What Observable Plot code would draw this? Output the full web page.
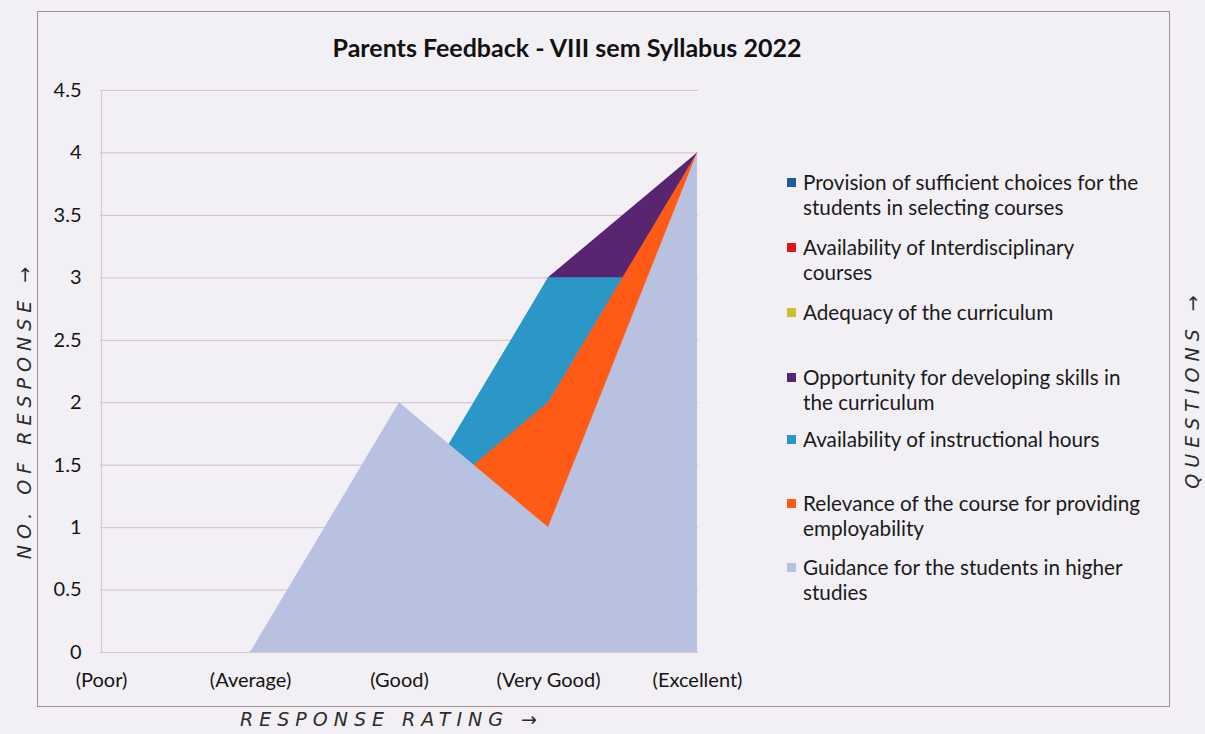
<!DOCTYPE html>
<html>
<head>
<meta charset="utf-8">
<script src="https://cdn.jsdelivr.net/npm/d3@7"></script>
<script src="https://cdn.jsdelivr.net/npm/@observablehq/plot@0.6"></script>
<style>
  html, body { margin: 0; padding: 0; background: #f3f0f5; }
  #wrap { position: relative; width: 1205px; height: 734px; overflow: hidden; background: #f3f0f5; font-family: Lato, "Open Sans", sans-serif; color: #141414; }
  #border { position: absolute; left: 37px; top: 11px; width: 1133px; height: 696px; border: 1.5px solid #9c8f88; box-sizing: border-box; }
  #title { position: absolute; left: 0; width: 1134px; top: 31px; text-align: center; font-weight: 700; font-size: 25px; line-height: 32px; color: #111; }
  #chart { position: absolute; left: 0; top: 0; }
  .leg { position: absolute; left: 787px; display: flex; align-items: flex-start; font-size: 20.7px; line-height: 25px; color: #1a1a1a; }
  .leg .sw { width: 9px; height: 9px; margin-top: 8px; margin-right: 7px; flex: none; }
  .hand { position: absolute; font-family: "DejaVu Sans", sans-serif; font-style: italic; font-size: 19px; letter-spacing: 6px; color: #2b2b2b; white-space: nowrap; font-weight: normal; }
</style>
</head>
<body>
<div id="wrap">
  <div id="border"></div>
  <div id="chart"></div>
  <div id="title"></div>
  <div id="legend"></div>
  <div class="hand" id="ylab"></div>
  <div class="hand" id="xlab"></div>
  <div class="hand" id="qlab"></div>
</div>
<script>
// ---- Data ----
const ratings = ["(Poor)", "(Average)", "(Good)", "(Very Good)", "(Excellent)"];
const seriesNames = [
  "Provision of sufficient choices for the students in selecting courses",
  "Availability of Interdisciplinary courses",
  "Adequacy of the curriculum",
  "Opportunity for developing skills in the curriculum",
  "Availability of instructional hours",
  "Relevance of the course for providing employability",
  "Guidance for the students in higher studies"
];
const provision         = [0, 0, 1, 2, 3];
const interdisciplinary = [0, 0, 1, 1, 3];
const adequacy          = [0, 0, 1, 1, 4];
const opportunity       = [0, 0, 0, 3, 4];
const instructional     = [0, 0, 1, 3, 3];
const relevance         = [0, 0, 1, 2, 4];
const guidance          = [0, 0, 2, 1, 4];
const yTicks = [0, 0.5, 1, 1.5, 2, 2.5, 3, 3.5, 4, 4.5];
const titleText = "Parents Feedback - VIII sem Syllabus 2022";

// ---- Styles ----
const colors = ["#1f5a9c", "#e0141c", "#c9c12e", "#5a2570", "#2a97c6", "#ff5a16", "#b9c1e1"];
const legendWrapWords = [6, 3, 0, 5, 0, 6, 6];
const legendCenters = [182, 247, 312, 377, 439, 503, 567];

const values = [provision, interdisciplinary, adequacy, opportunity, instructional, relevance, guidance];
const data = seriesNames.flatMap((s, i) => values[i].map((v, j) => ({series: s, rating: ratings[j], value: v})));

const chart = Plot.plot({
  width: 1205,
  height: 734,
  marginLeft: 100,
  marginRight: 507,
  marginTop: 90,
  marginBottom: 82,
  style: {background: "transparent", fontFamily: "Lato, 'Open Sans', sans-serif", fontSize: "20px", color: "#141414"},
  x: {type: "point", domain: ratings, padding: 0, label: null, tickSize: 0, tickPadding: 20},
  y: {domain: [0, 4.5], ticks: yTicks, tickFormat: d3.format("~g"), label: null, tickSize: 0, tickPadding: 19},
  color: {domain: seriesNames, range: colors},
  marks: [
    Plot.gridY(yTicks, {stroke: "#d9c7d0", strokeOpacity: 1, strokeWidth: 1.2}),
    Plot.ruleX([ratings[0]], {stroke: "#d9c7d0", strokeWidth: 1.2}),
    Plot.areaY(data, {x: "rating", y1: 0, y2: "value", z: "series", fill: "series", fillOpacity: 1})
  ]
});
document.getElementById("chart").appendChild(chart);

document.getElementById("title").textContent = titleText;

const legend = document.getElementById("legend");
seriesNames.forEach((name, i) => {
  const row = document.createElement("div");
  row.className = "leg";
  row.style.top = (legendCenters[i] - 12.5) + "px";
  const sw = document.createElement("span");
  sw.className = "sw";
  sw.style.background = colors[i];
  const txt = document.createElement("span");
  const words = name.split(" ");
  const k = legendWrapWords[i];
  if (k > 0 && k < words.length) {
    txt.innerHTML = words.slice(0, k).join(" ") + "<br>" + words.slice(k).join(" ");
  } else {
    txt.textContent = name;
  }
  row.appendChild(sw);
  row.appendChild(txt);
  legend.appendChild(row);
});

// Handwritten annotations
const ylab = document.getElementById("ylab");
ylab.textContent = "NO. OF RESPONSE \u2192";
ylab.style.left = "24px";
ylab.style.top = "410px";
ylab.style.transform = "translate(-50%, -50%) rotate(-90deg)";

const xlab = document.getElementById("xlab");
xlab.textContent = "RESPONSE  RATING \u2192";
xlab.style.left = "240px";
xlab.style.top = "708px";

const qlab = document.getElementById("qlab");
qlab.textContent = "QUESTIONS \u2192";
qlab.style.left = "1192px";
qlab.style.top = "389px";
qlab.style.transform = "translate(-50%, -50%) rotate(-90deg)";
</script>
</body>
</html>
